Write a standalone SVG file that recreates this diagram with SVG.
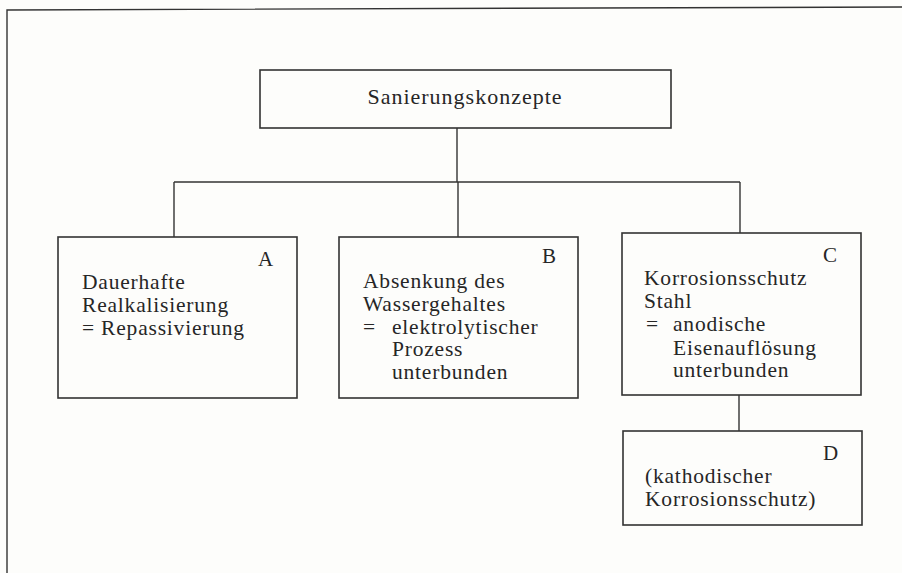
<svg xmlns="http://www.w3.org/2000/svg" width="902" height="573" viewBox="0 0 902 573">
<style>
.bg{fill:#fdfdfb}
.box{fill:none;stroke:#333;stroke-width:1.6}
.ln{stroke:#333;stroke-width:1.4;fill:none}
text{font-family:"Liberation Serif","Times New Roman",serif;fill:#262626}
.t{font-size:21.5px;letter-spacing:0.8px}
.h{font-size:22px;letter-spacing:1px;text-anchor:middle}
.l{font-size:21px}
</style>
<rect class="bg" x="0" y="0" width="902" height="573"/>
<g id="frame">
<path class="ln" d="M7,573 V10 L902,7"/>
</g>
<g id="connectors">
<path class="ln" d="M457,128 V182"/>
<path class="ln" d="M174,182 H740"/>
<path class="ln" d="M174,182 V237"/>
<path class="ln" d="M458,182 V237"/>
<path class="ln" d="M740,182 V233"/>
<path class="ln" d="M739,395 V431"/>
</g>
<g id="root">
<rect class="box" x="260" y="70" width="411" height="58"/>
<text class="h" x="465" y="104">Sanierungskonzepte</text>
</g>
<g id="nodeA">
<rect class="box" x="58" y="237" width="239" height="161"/>
<text class="l" x="258" y="266">A</text>
<text class="t" x="82" y="289">Dauerhafte</text>
<text class="t" x="82" y="312">Realkalisierung</text>
<text class="t" x="82" y="335">= Repassivierung</text>
</g>
<g id="nodeB">
<rect class="box" x="339" y="237" width="239" height="161"/>
<text class="l" x="542" y="263">B</text>
<text class="t" x="363" y="288">Absenkung des</text>
<text class="t" x="363" y="310.5">Wassergehaltes</text>
<text class="t" x="363" y="333.5">=</text>
<text class="t" x="392" y="333.5">elektrolytischer</text>
<text class="t" x="392" y="356">Prozess</text>
<text class="t" x="392" y="378.5">unterbunden</text>
</g>
<g id="nodeC">
<rect class="box" x="622" y="233" width="239" height="162"/>
<text class="l" x="823" y="262">C</text>
<text class="t" x="644" y="285">Korrosionsschutz</text>
<text class="t" x="644" y="308">Stahl</text>
<text class="t" x="646" y="331">=</text>
<text class="t" x="673" y="331">anodische</text>
<text class="t" x="673" y="354.5">Eisenauflösung</text>
<text class="t" x="673" y="377">unterbunden</text>
</g>
<g id="nodeD">
<rect class="box" x="623" y="431" width="239" height="94"/>
<text class="l" x="823" y="460">D</text>
<text class="t" x="645" y="483">(kathodischer</text>
<text class="t" x="645" y="506">Korrosionsschutz)</text>
</g>
</svg>
